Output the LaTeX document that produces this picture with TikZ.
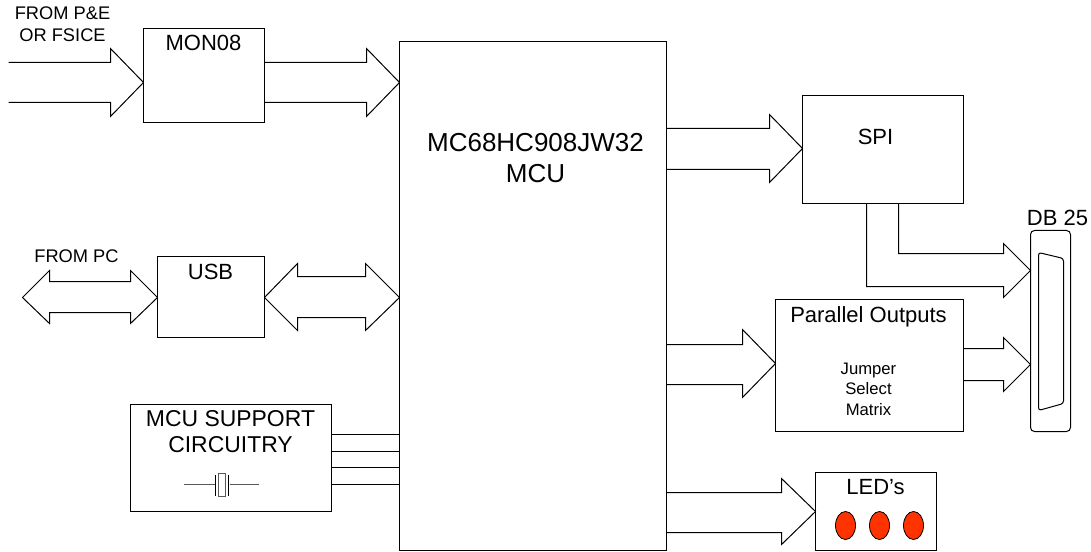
\documentclass[tikz,border=0pt]{standalone}
\usepackage{fontspec}
\setmainfont{Liberation Sans}
\usetikzlibrary{calc,fit,shapes.geometric}
\definecolor{ledred}{HTML}{FF3300}
\tikzset{
  wire/.style={draw=black,line width=0.75pt,line cap=butt,line join=miter},
  box/.style={draw=black,line width=0.75pt,inner sep=0pt,outer sep=0pt},
  lab/.style={inner sep=0pt,outer sep=0pt,anchor=base,align=center},
  big/.style={lab,font=\fontsize{19.5}{23}\selectfont},
  mid/.style={lab,font=\fontsize{16.5}{20}\selectfont},
  midplus/.style={lab,font=\fontsize{17.2}{20}\selectfont},
  small/.style={lab,font=\fontsize{13.7}{16}\selectfont},
  tiny/.style={lab,font=\fontsize{12.5}{15}\selectfont},
  led/.style={draw=black,line width=0.6pt,fill=ledred,ellipse,minimum width=15pt,minimum height=21pt,inner sep=0pt},
}
% tip, shaft start A, shaft start B, head length, head half-height
\newcommand{\busarrow}[5]{%
  \coordinate (tp) at #1; \coordinate (sa) at #2; \coordinate (sb) at #3;
  \coordinate (bs) at ($(tp)+(-#4,0)$);
  \draw[wire] (sa) -- (bs |- sa) -- ($(bs)+(0,-#5)$) -- (tp) -- ($(bs)+(0,#5)$) -- (bs |- sb) -- (sb);
}
\begin{document}
\begin{tikzpicture}[x=0.75pt,y=-0.75pt]
\useasboundingbox (0,0) rectangle (1091,552);
\begin{scope}[shift={(0.5,0.5)}]
% boxes
\node[box,fit={(399,41)(666,550)}] (mcu) {};
\node[box,fit={(143,28)(264,122)}] (mon) {};
\node[box,fit={(157,256)(264,337)}] (usb) {};
\node[box,fit={(130,404)(331,511)}] (sup) {};
\node[box,fit={(802,95)(963,203)}] (spi) {};
\node[box,fit={(775,299)(963,431)}] (par) {};
\node[box,fit={(815,472)(936,550)}] (ledbox) {};
\node[box,rounded corners=3pt,fit={(1030,230)(1070,431)}] (db) {};
% texts
\node[small] (t1) at (62,19.5) {FROM P\&E};
\node[small] (t2) at (62,41.5) {OR FSICE};
\node[mid] (t3) at (203,50.5) {MON08};
\node[big] (t4) at (535,151) {MC68HC908JW32};
\node[big] (t5) at (535,182) {MCU};
\node[small] (t6) at (76,262) {FROM PC};
\node[mid] (t7) at (210,279) {USB};
\node[midplus] (t8) at (230,426) {MCU SUPPORT};
\node[midplus] (t9) at (230,452) {CIRCUITRY};
\node[mid] (t10) at (875,144) {SPI};
\node[mid] (t11) at (1057,225) {DB 25};
\node[mid] (t12) at (868,322) {Parallel Outputs};
\node[tiny] (t13) at (868,374) {Jumper};
\node[tiny] (t14) at (868,394) {Select};
\node[tiny] (t15) at (868,415) {Matrix};
\node[mid] (t16) at (875,494) {LED’s};
% LEDs
\node[led] (l1) at (845,525) {};
\node[led] (l2) at (879,525) {};
\node[led] (l3) at (913,525) {};
% bus arrows
\coordinate (fa) at (8,62); \coordinate (fb) at (8,102);
\busarrow{(mon.west |- 0,82)}{(fa)}{(fb)}{33}{34}
\busarrow{(mcu.west |- 0,82)}{(mon.east |- 0,62)}{(mon.east |- 0,102)}{33}{34}
% bidirectional
\draw[wire] (usb.west |- 0,297) -- (130,270) -- (130,281) -- (49,281) -- (49,270) -- (22,297) -- (49,323) -- (49,312) -- (130,312) -- (130,323) -- cycle;
\draw[wire] (mcu.west |- 0,297) -- (365,263) -- (365,276) -- (297,276) -- (297,263) -- (usb.east |- 0,297) -- (297,330) -- (297,317) -- (365,317) -- (365,330) -- cycle;
% support lines
\foreach \yy in {434,451,467}{\draw[wire] (sup.east |- 0,\yy) -- (mcu.west |- 0,\yy);}
\draw[wire,line width=1.1pt] (sup.east |- 0,484) -- (mcu.west |- 0,484);
% crystal
\draw[wire,draw=black!65] (183,484) -- (214,484);
\draw[wire,draw=black!65] (229,484) -- (258,484);
\draw[wire] (215,474) -- (215,495);
\draw[wire] (228,474) -- (228,495);
\draw[wire,draw=black!65] (218,473) rectangle (225,496);
% right side
\busarrow{(spi.west |- 0,148)}{(mcu.east |- 0,128)}{(mcu.east |- 0,169)}{33}{34}
\busarrow{(par.west |- 0,363)}{(mcu.east |- 0,344)}{(mcu.east |- 0,384)}{33}{34}
\busarrow{(ledbox.west |- 0,511)}{(mcu.east |- 0,492)}{(mcu.east |- 0,532)}{34}{33}
\draw[wire] (spi.south -| 898,0) -- (898,253) -- (1003,253) -- (1003,243) -- (db.west |- 0,270) -- (1003,297) -- (1003,286) -- (866,286) -- (spi.south -| 866,0);
\busarrow{(db.west |- 0,364)}{(par.east |- 0,348)}{(par.east |- 0,380)}{27}{27}
% connector shell
\draw[wire,rounded corners=2pt] (1038,252) -- (1063,258) -- (1063,403) -- (1038,410) -- cycle;
\end{scope}
\end{tikzpicture}
\end{document}
